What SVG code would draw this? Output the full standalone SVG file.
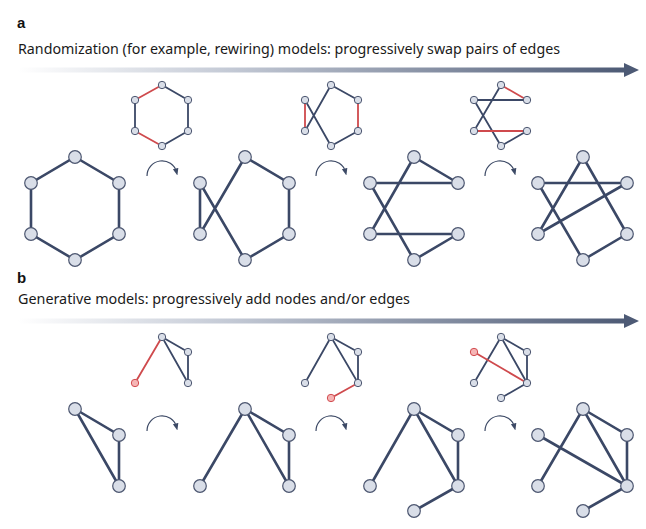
<svg xmlns="http://www.w3.org/2000/svg" width="646" height="529" viewBox="0 0 646 529">
<defs>
<linearGradient id="grad" x1="18" y1="0" x2="626" y2="0" gradientUnits="userSpaceOnUse">
<stop offset="0" stop-color="#ffffff"/>
<stop offset="0.35" stop-color="#c3c9d5"/>
<stop offset="1" stop-color="#4d5a75"/>
</linearGradient>
<marker id="ah" viewBox="0 0 10 10" refX="5" refY="5" markerWidth="7" markerHeight="7" orient="auto" markerUnits="userSpaceOnUse">
<path d="M0,1 L10,5 L0,9 Z" fill="#3d4a66"/>
</marker>
<style>
.lbl{font-family:"Liberation Sans",Arial,sans-serif;font-weight:bold;font-size:15px;fill:#111}
.ttl{font-family:"Noto Sans","Liberation Sans",sans-serif;font-size:14.5px;fill:#1a1a1a}
.e{stroke:#3b4866;stroke-width:2.6;stroke-linecap:round;fill:none}
.es{stroke:#3b4866;stroke-width:1.8;stroke-linecap:round;fill:none}
.er{stroke:#cf4a4d;stroke-width:1.8;stroke-linecap:round;fill:none}
.n{fill:#d9dee8;stroke:#4c5670;stroke-width:1.2}
.ns{fill:#d9dee8;stroke:#4c5670;stroke-width:1}
.nr{fill:#f5b5b5;stroke:#d24c50;stroke-width:1}
.cv{stroke:#3d4a66;stroke-width:1.2;fill:none}
</style>
</defs>
<rect width="646" height="529" fill="#ffffff"/>

<g id="panel-a-header">
<text class="lbl" x="17" y="28">a</text>
<text class="ttl" x="18" y="54" textLength="542" lengthAdjust="spacingAndGlyphs">Randomization (for example, rewiring) models: progressively swap pairs of edges</text>
<rect x="18" y="67.5" width="608" height="5" fill="url(#grad)"/>
<path d="M624,63 L639,70 L624,77 Z" fill="#4d5a75"/>
</g>

<g id="panel-b-header">
<text class="lbl" x="17" y="283">b</text>
<text class="ttl" x="18" y="304" textLength="392" lengthAdjust="spacingAndGlyphs">Generative models: progressively add nodes and/or edges</text>
<rect x="18" y="318.5" width="608" height="5" fill="url(#grad)"/>
<path d="M624,314 L639,321 L624,328 Z" fill="#4d5a75"/>
</g>

<g id="connectors">
<path class="e" d="M75,157 L119,183 L119,234 L75,260 L31,234 L31,183 Z"/>
<path class="e" d="M200,183 L200,234 M200,183 L245,260 M200,234 L245,157 M245,157 L289,183 L289,234 L245,260"/>
<path class="e" d="M414,157 L458,183 M370,183 L458,183 M370,183 L414,260 M370,234 L414,157 M370,234 L458,234 M458,234 L414,260"/>
<path class="e" d="M538,183 L627,183 M538,183 L583,260 M583,157 L538,234 M583,157 L627,234 M538,234 L627,183 M627,234 L583,260"/>
<path class="es" d="M162,85 L188,100 L188,131 L162,146 M135,100 L135,131"/>
<path class="er" d="M162,85 L135,100 M135,131 L162,146"/>
<path class="es" d="M331,85 L305,131 M305,100 L331,146 M331,85 L358,100 M358,131 L331,146"/>
<path class="er" d="M305,100 L305,131 M358,100 L358,131"/>
<path class="es" d="M474,100 L527,100 M501,85 L474,131 M474,100 L501,146 M527,131 L501,146"/>
<path class="er" d="M501,85 L527,100 M474,131 L527,131"/>
<path class="es" d="M162,337 L188,352 L188,383 Z"/>
<path class="er" d="M162,337 L135,383"/>
<path class="es" d="M331,337 L305,383 M331,337 L358,352 L358,383 Z"/>
<path class="er" d="M358,383 L331,398"/>
<path class="es" d="M501,337 L474,383 M501,337 L527,352 L527,383 Z M527,383 L501,398"/>
<path class="er" d="M474,352 L527,383"/>
<path class="e" d="M75,409 L119,435 L119,486 Z"/>
<path class="e" d="M245,409 L200,486 M245,409 L289,435 L289,486 Z"/>
<path class="e" d="M414,409 L370,486 M414,409 L458,435 L458,486 Z M458,486 L414,511"/>
<path class="e" d="M583,409 L538,486 M583,409 L627,435 L627,486 Z M627,486 L583,511 M538,435 L627,486"/>
<path class="cv" marker-end="url(#ah)" d="M147,176 A15,15 0 0 1 176.5,172"/>
<path class="cv" marker-end="url(#ah)" d="M316,176 A15,15 0 0 1 345.5,172"/>
<path class="cv" marker-end="url(#ah)" d="M485,176 A15,15 0 0 1 514.5,172"/>
<path class="cv" marker-end="url(#ah)" d="M147,431 A15,15 0 0 1 176.5,427"/>
<path class="cv" marker-end="url(#ah)" d="M316,431 A15,15 0 0 1 345.5,427"/>
<path class="cv" marker-end="url(#ah)" d="M485,431 A15,15 0 0 1 514.5,427"/>
</g>

<g id="a-g1-nodes">
<circle class="n" cx="75" cy="157" r="6.3"/><circle class="n" cx="31" cy="183" r="6.3"/><circle class="n" cx="119" cy="183" r="6.3"/>
<circle class="n" cx="31" cy="234" r="6.3"/><circle class="n" cx="119" cy="234" r="6.3"/><circle class="n" cx="75" cy="260" r="6.3"/>
</g>
<g id="a-g2-nodes">
<circle class="n" cx="245" cy="157" r="6.3"/><circle class="n" cx="200" cy="183" r="6.3"/><circle class="n" cx="289" cy="183" r="6.3"/>
<circle class="n" cx="200" cy="234" r="6.3"/><circle class="n" cx="289" cy="234" r="6.3"/><circle class="n" cx="245" cy="260" r="6.3"/>
</g>
<g id="a-g3-nodes">
<circle class="n" cx="414" cy="157" r="6.3"/><circle class="n" cx="370" cy="183" r="6.3"/><circle class="n" cx="458" cy="183" r="6.3"/>
<circle class="n" cx="370" cy="234" r="6.3"/><circle class="n" cx="458" cy="234" r="6.3"/><circle class="n" cx="414" cy="260" r="6.3"/>
</g>
<g id="a-g4-nodes">
<circle class="n" cx="583" cy="157" r="6.3"/><circle class="n" cx="538" cy="183" r="6.3"/><circle class="n" cx="627" cy="183" r="6.3"/>
<circle class="n" cx="538" cy="234" r="6.3"/><circle class="n" cx="627" cy="234" r="6.3"/><circle class="n" cx="583" cy="260" r="6.3"/>
</g>
<g id="a-s1-nodes">
<circle class="ns" cx="162" cy="85" r="3.7"/><circle class="ns" cx="135" cy="100" r="3.7"/><circle class="ns" cx="188" cy="100" r="3.7"/>
<circle class="ns" cx="135" cy="131" r="3.7"/><circle class="ns" cx="188" cy="131" r="3.7"/><circle class="ns" cx="162" cy="146" r="3.7"/>
</g>
<g id="a-s2-nodes">
<circle class="ns" cx="331" cy="85" r="3.7"/><circle class="ns" cx="305" cy="100" r="3.7"/><circle class="ns" cx="358" cy="100" r="3.7"/>
<circle class="ns" cx="305" cy="131" r="3.7"/><circle class="ns" cx="358" cy="131" r="3.7"/><circle class="ns" cx="331" cy="146" r="3.7"/>
</g>
<g id="a-s3-nodes">
<circle class="ns" cx="501" cy="85" r="3.7"/><circle class="ns" cx="474" cy="100" r="3.7"/><circle class="ns" cx="527" cy="100" r="3.7"/>
<circle class="ns" cx="474" cy="131" r="3.7"/><circle class="ns" cx="527" cy="131" r="3.7"/><circle class="ns" cx="501" cy="146" r="3.7"/>
</g>
<g id="b-s1-nodes">
<circle class="ns" cx="162" cy="337" r="3.7"/><circle class="ns" cx="188" cy="352" r="3.7"/><circle class="ns" cx="188" cy="383" r="3.7"/>
<circle class="nr" cx="135" cy="383" r="3.7"/>
</g>
<g id="b-s2-nodes">
<circle class="ns" cx="331" cy="337" r="3.7"/><circle class="ns" cx="358" cy="352" r="3.7"/><circle class="ns" cx="305" cy="383" r="3.7"/>
<circle class="ns" cx="358" cy="383" r="3.7"/><circle class="nr" cx="331" cy="398" r="3.7"/>
</g>
<g id="b-s3-nodes">
<circle class="ns" cx="501" cy="337" r="3.7"/><circle class="ns" cx="527" cy="352" r="3.7"/><circle class="ns" cx="474" cy="383" r="3.7"/>
<circle class="ns" cx="527" cy="383" r="3.7"/><circle class="ns" cx="501" cy="398" r="3.7"/><circle class="nr" cx="474" cy="352" r="3.7"/>
</g>
<g id="b-g1-nodes">
<circle class="n" cx="75" cy="409" r="6.3"/><circle class="n" cx="119" cy="435" r="6.3"/><circle class="n" cx="119" cy="486" r="6.3"/>
</g>
<g id="b-g2-nodes">
<circle class="n" cx="245" cy="409" r="6.3"/><circle class="n" cx="289" cy="435" r="6.3"/><circle class="n" cx="200" cy="486" r="6.3"/><circle class="n" cx="289" cy="486" r="6.3"/>
</g>
<g id="b-g3-nodes">
<circle class="n" cx="414" cy="409" r="6.3"/><circle class="n" cx="458" cy="435" r="6.3"/><circle class="n" cx="370" cy="486" r="6.3"/>
<circle class="n" cx="458" cy="486" r="6.3"/><circle class="n" cx="414" cy="511" r="6.3"/>
</g>
<g id="b-g4-nodes">
<circle class="n" cx="583" cy="409" r="6.3"/><circle class="n" cx="627" cy="435" r="6.3"/><circle class="n" cx="538" cy="435" r="6.3"/>
<circle class="n" cx="538" cy="486" r="6.3"/><circle class="n" cx="627" cy="486" r="6.3"/><circle class="n" cx="583" cy="511" r="6.3"/>
</g>
</svg>
